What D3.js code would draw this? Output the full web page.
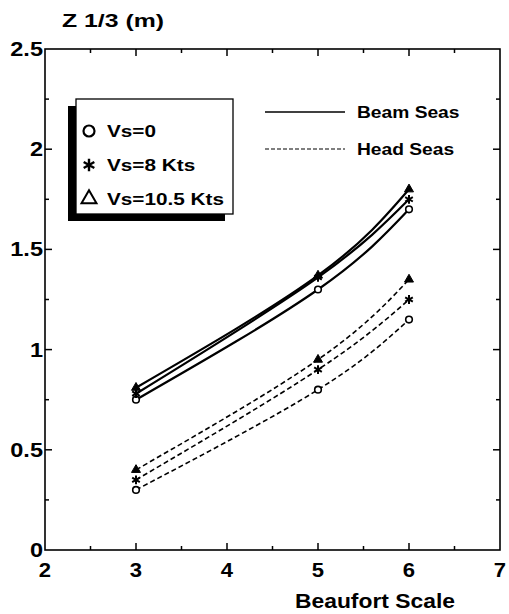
<!DOCTYPE html>
<html>
<head>
<meta charset="utf-8">
<script src="https://cdn.jsdelivr.net/npm/d3@7"></script>
<style>
  html, body { margin: 0; padding: 0; background: #fff; }
  svg { display: block; font-family: "Liberation Sans", Arial, sans-serif; }
</style>
</head>
<body>
<svg id="chart" width="509" height="614"></svg>
<script>
// Beaufort numbers where the significant heave amplitude was computed
const beaufort = [3, 5, 6];

// Beam seas (solid curves)
const beamVs0   = [0.75, 1.30, 1.70];
const beamVs8   = [0.78, 1.36, 1.75];
const beamVs105 = [0.81, 1.37, 1.80];

// Head seas (dashed curves)
const headVs0   = [0.30, 0.80, 1.15];
const headVs8   = [0.35, 0.90, 1.25];
const headVs105 = [0.40, 0.95, 1.35];

const xTicks = [2, 3, 4, 5, 6, 7];
const yTicks = [0, 0.5, 1, 1.5, 2, 2.5];
const yTickLabels = ["0", "0.5", "1", "1.5", "2", "2.5"];
const speedLabels = ["Vs=0", "Vs=8 Kts", "Vs=10.5 Kts"];
const seaLabels = ["Beam Seas", "Head Seas"];

const svg = d3.select("#chart");
const plotL = 45, plotR = 500, plotT = 49, plotB = 550;

const x = d3.scaleLinear().domain([2, 7]).range([plotL, plotR]);
const y = d3.scaleLinear().domain([0, 2.5]).range([plotB, plotT]);

// Widen a text run horizontally by factor k (the lettering is a wide face)
function widen(sel, k) {
  sel.each(function () {
    const w = this.getComputedTextLength();
    d3.select(this).attr("textLength", w * k).attr("lengthAdjust", "spacingAndGlyphs");
  });
  return sel;
}

// Frame
svg.append("rect")
  .attr("x", plotL).attr("y", plotT)
  .attr("width", plotR - plotL).attr("height", plotB - plotT)
  .attr("fill", "none").attr("stroke", "#000").attr("stroke-width", 1.6);

// Inward ticks on all four sides
const xMinor = d3.range(2.5, 7, 1);
const yMinor = d3.range(0.25, 2.5, 0.5);
const tickG = svg.append("g").attr("stroke", "#000").attr("stroke-width", 1.5);
function xTick(v, len) {
  tickG.append("line").attr("x1", x(v)).attr("x2", x(v)).attr("y1", plotB).attr("y2", plotB - len);
  tickG.append("line").attr("x1", x(v)).attr("x2", x(v)).attr("y1", plotT).attr("y2", plotT + len);
}
function yTick(v, len) {
  tickG.append("line").attr("y1", y(v)).attr("y2", y(v)).attr("x1", plotL).attr("x2", plotL + len);
  tickG.append("line").attr("y1", y(v)).attr("y2", y(v)).attr("x1", plotR).attr("x2", plotR - len);
}
xTicks.slice(1, -1).forEach(v => xTick(v, 7));
xMinor.forEach(v => xTick(v, 4));
yTicks.slice(1, -1).forEach(v => yTick(v, 7));
yMinor.forEach(v => yTick(v, 4));

// Tick labels
widen(svg.append("g").selectAll("text").data(xTicks).join("text")
  .attr("x", d => x(d)).attr("y", 577)
  .attr("text-anchor", "middle")
  .attr("font-size", 21).attr("font-weight", "bold")
  .text(d => d), 1.05);
widen(svg.append("g").selectAll("text").data(yTicks).join("text")
  .attr("x", plotL - 2).attr("y", d => y(d) + 7)
  .attr("text-anchor", "end")
  .attr("font-size", 21).attr("font-weight", "bold")
  .text((d, i) => yTickLabels[i]), 1.12);

// Axis titles
svg.append("text").attr("x", 62).attr("y", 27)
  .attr("font-size", 19).attr("font-weight", "bold")
  .attr("textLength", 102).attr("lengthAdjust", "spacingAndGlyphs")
  .text("Z 1/3 (m)");
svg.append("text").attr("x", 295).attr("y", 608)
  .attr("font-size", 21).attr("font-weight", "bold")
  .attr("textLength", 160).attr("lengthAdjust", "spacingAndGlyphs")
  .text("Beaufort Scale");

// Curves
const line = d3.line()
  .x((d, i) => x(beaufort[i]))
  .y(d => y(d))
  .curve(d3.curveNatural);

const series = [
  { v: beamVs0,   m: 0, dash: null },
  { v: beamVs8,   m: 1, dash: null },
  { v: beamVs105, m: 2, dash: null },
  { v: headVs0,   m: 0, dash: "5,3" },
  { v: headVs8,   m: 1, dash: "5,3" },
  { v: headVs105, m: 2, dash: "5,3" }
];

const plot = svg.append("g");
series.forEach(s => {
  plot.append("path")
    .attr("d", line(s.v))
    .attr("fill", "none")
    .attr("stroke", "#000")
    .attr("stroke-width", s.dash ? 1.6 : 2.2)
    .attr("stroke-dasharray", s.dash);
});

// Markers
function marker(g, cx, cy, type, size) {
  const big = size > 4;
  if (type === 0) {
    g.append("circle").attr("cx", cx).attr("cy", cy).attr("r", size)
      .attr("fill", "#fff").attr("stroke", "#000").attr("stroke-width", big ? 2.2 : 1.6);
  } else if (type === 1) {
    g.append("path")
      .attr("d", d3.symbol(d3.symbolAsterisk, size * size * (big ? 3.5 : 5))())
      .attr("transform", `translate(${cx},${cy})`)
      .attr("fill", "none").attr("stroke", "#000").attr("stroke-width", big ? 2.4 : 2);
  } else {
    g.append("path")
      .attr("d", d3.symbol(d3.symbolTriangle, size * size * 3.2)())
      .attr("transform", `translate(${cx},${cy})`)
      .attr("fill", big ? "#fff" : "#000")
      .attr("stroke", "#000").attr("stroke-width", big ? 2 : 1);
  }
}
series.forEach(s => {
  s.v.forEach((v, i) => marker(plot, x(beaufort[i]), y(v), s.m, 3.3));
});

// Speed legend with drop shadow
const lg = svg.append("g");
lg.append("rect").attr("x", 68).attr("y", 106).attr("width", 157).attr("height", 115).attr("fill", "#000");
lg.append("rect").attr("x", 76).attr("y", 99).attr("width", 157).attr("height", 115)
  .attr("fill", "#fff").attr("stroke", "#000").attr("stroke-width", 1.3);
speedLabels.forEach((t, i) => {
  const cy = 131 + i * 34;
  marker(lg, 89, cy, i, 5.5);
  widen(lg.append("text").attr("x", 107).attr("y", cy + 6)
    .attr("font-size", 17).attr("font-weight", "bold").text(t), 1.22);
});

// Sea-direction legend
const sl = svg.append("g");
seaLabels.forEach((t, i) => {
  const ly = 112 + i * 37;
  sl.append("line").attr("x1", 265).attr("x2", 345).attr("y1", ly).attr("y2", ly)
    .attr("stroke", "#000").attr("stroke-width", i ? 1.2 : 1.6)
    .attr("stroke-dasharray", i ? "4,2" : null);
  widen(sl.append("text").attr("x", 357).attr("y", ly + 6)
    .attr("font-size", 16).attr("font-weight", "bold").text(t), 1.2);
});
</script>
</body>
</html>
